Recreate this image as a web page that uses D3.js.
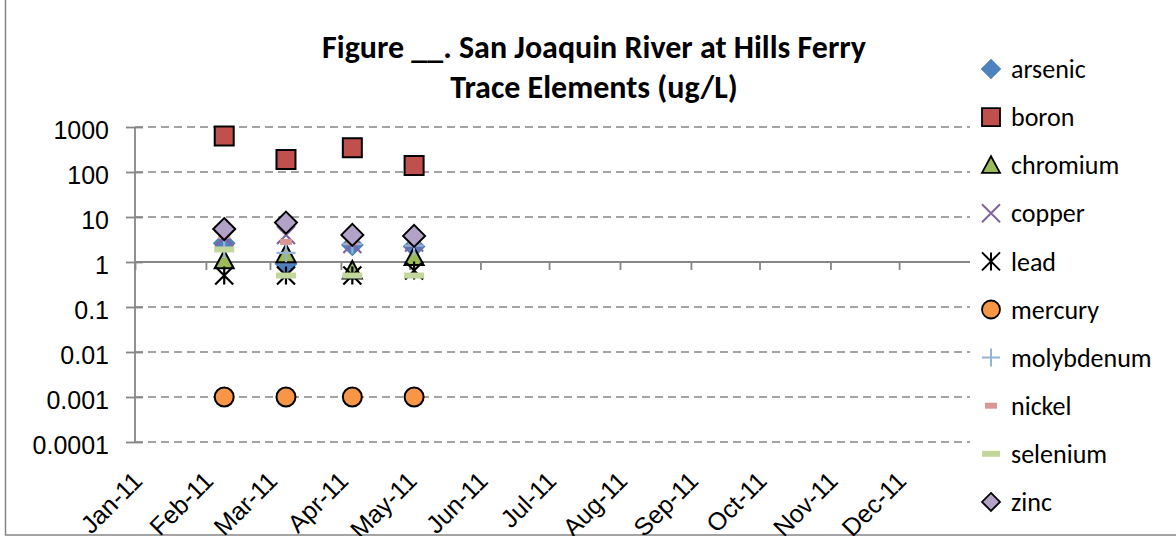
<!DOCTYPE html>
<html lang="en">
  <head>
    <meta charset="UTF-8">
    <title>San Joaquin River at Hills Ferry</title>
    <script src="https://cdn.jsdelivr.net/npm/d3@7"></script>
    <style>
      html, body {
        margin: 0;
        padding: 0;
        background: #fff;
      }
      svg {
        display: block;
        font-family: Carlito, Calibri, Lato, sans-serif;
      }
    </style>
  </head>
  <body>
    <script>
      // values
      const monthLabels = ["Jan-11", "Feb-11", "Mar-11", "Apr-11", "May-11", "Jun-11",
        "Jul-11", "Aug-11", "Sep-11", "Oct-11", "Nov-11", "Dec-11"];
      const sampleDates = ["2011-02-09", "2011-03-08", "2011-04-06", "2011-05-03"];
      const yTickValues = [0.0001, 0.001, 0.01, 0.1, 1, 10, 100, 1000];
      const yTickLabels = ["0.0001", "0.001", "0.01", "0.1", "1", "10", "100", "1000"];

      const elementNames = ["arsenic", "boron", "chromium", "copper", "lead", "mercury",
        "molybdenum", "nickel", "selenium", "zinc"];
      const arsenic = [2.6, 0.9, 2.4, 2.2];
      const boron = [630, 190, 345, 140];
      const chromium = [1.1, 1.5, 0.65, 1.3];
      const copper = [3.5, 4.0, 2.5, 2.7];
      const lead = [0.5, 0.5, 0.5, 0.65];
      const mercury = [0.001, 0.001, 0.001, 0.001];
      const molybdenum = [2.0, 1.6, 2.5, 2.3];
      const nickel = [3.8, 2.8, 2.8, 2.9];
      const selenium = [1.9, 0.5, 0.5, 0.5];
      const zinc = [5.4, 7.5, 4.0, 3.8];

      const seriesValues = [arsenic, boron, chromium, copper, lead, mercury,
        molybdenum, nickel, selenium, zinc];

      const parseDay = d3.timeParse("%Y-%m-%d");
      const series = elementNames.map((name, i) => ({
        name: name,
        points: sampleDates.map((d, j) => ({ date: parseDay(d), value: seriesValues[i][j] }))
      }));

      // marker look for each series (Excel 2007 default palette)
      const markers = {
        arsenic:    { shape: "diamond",  fill: "#4F81BD", stroke: "#4F81BD", size: 20 },
        boron:      { shape: "square",   fill: "#C0504D", stroke: "#000",    size: 19 },
        chromium:   { shape: "triangle", fill: "#9BBB59", stroke: "#000",    size: 19 },
        copper:     { shape: "x",        fill: "none",    stroke: "#8064A2", size: 18 },
        lead:       { shape: "star",     fill: "none",    stroke: "#000",    size: 18 },
        mercury:    { shape: "circle",   fill: "#F79646", stroke: "#000",    size: 19 },
        molybdenum: { shape: "plus",     fill: "none",    stroke: "#95B3D7", size: 19 },
        nickel:     { shape: "dash",     fill: "#D99694", stroke: "none",    size: 12 },
        selenium:   { shape: "bar",      fill: "#C3D69B", stroke: "none",    size: 20 },
        zinc:       { shape: "diamond",  fill: "#B3A2C7", stroke: "#000",    size: 22 }
      };

      function markerPath(shape, s) {
        const h = s / 2;
        switch (shape) {
          case "diamond": return `M0,${-h}L${h},0L0,${h}L${-h},0Z`;
          case "square": return `M${-h},${-h}H${h}V${h}H${-h}Z`;
          case "triangle": return `M0,${-h}L${h},${h * 0.85}H${-h}Z`;
          case "circle": return `M${h},0A${h},${h} 0 1,1 ${-h},0A${h},${h} 0 1,1 ${h},0Z`;
          case "x": return `M${-h},${-h}L${h},${h}M${h},${-h}L${-h},${h}`;
          case "star": return `M${-h},${-h}L${h},${h}M${h},${-h}L${-h},${h}M0,${-h}V${h}`;
          case "plus": return `M${-h},0H${h}M0,${-h}V${h}`;
          case "dash": return `M${-h},-3H${h}V3H${-h}Z`;
          case "bar": return `M${-h},-3H${h}V3H${-h}Z`;
        }
      }

      const width = 1176;
      const height = 536;
      const plot = { left: 135, right: 970, top: 127, bottom: 442 };

      const svg = d3.select("body")
        .append("svg")
        .attr("width", width)
        .attr("height", height);

      // chart frame
      svg.append("rect")
        .attr("x", 5.5)
        .attr("y", -2)
        .attr("width", 1175)
        .attr("height", 537)
        .attr("fill", "#fff")
        .attr("stroke", "#868686")
        .attr("stroke-width", 1.5);

      const x = d3.scaleTime()
        .domain([new Date(2011, 0, 1), new Date(2012, 0, 1)])
        .range([plot.left, plot.right]);

      const y = d3.scaleLog()
        .domain([0.0001, 1000])
        .range([plot.bottom, plot.top]);

      // horizontal gridlines
      svg.append("g")
        .selectAll("line")
        .data(yTickValues.filter(v => v !== 1))
        .join("line")
        .attr("x1", plot.left)
        .attr("x2", plot.right)
        .attr("y1", d => y(d))
        .attr("y2", d => y(d))
        .attr("stroke", "#868686")
        .attr("stroke-width", 1.6)
        .attr("stroke-dasharray", "8,5");

      // y axis
      const yAxis = d3.axisLeft(y)
        .tickValues(yTickValues)
        .tickFormat((d, i) => yTickLabels[i])
        .tickSize(9)
        .tickPadding(17);

      const gy = svg.append("g")
        .attr("transform", `translate(${plot.left},0)`)
        .call(yAxis);
      gy.select(".domain")
        .attr("d", `M0,${plot.top}V${plot.bottom}`)
        .attr("stroke", "#868686")
        .attr("stroke-width", 1.8);
      gy.selectAll(".tick line")
        .attr("x1", 8)
        .attr("stroke", "#868686")
        .attr("stroke-width", 1.8);
      gy.selectAll(".tick text")
        .attr("font-family", null)
        .attr("font-size", 25)
        .attr("fill", "#000")
        .attr("dy", "0.45em");

      // x axis crossing at 1
      const monthDates = d3.timeMonth.range(new Date(2011, 0, 1), new Date(2012, 0, 1));
      const xAxis = d3.axisBottom(x)
        .tickValues(monthDates)
        .tickFormat("")
        .tickSize(8);

      const gx = svg.append("g")
        .attr("transform", `translate(0,${y(1)})`)
        .call(xAxis);
      gx.select(".domain")
        .attr("d", `M${plot.left},0H${plot.right}`)
        .attr("stroke", "#868686")
        .attr("stroke-width", 1.8);
      gx.selectAll(".tick line")
        .attr("stroke", "#868686")
        .attr("stroke-width", 1.8);

      // month labels sit low, under the plot
      const labelAxis = d3.axisBottom(x)
        .tickValues(monthDates)
        .tickFormat((d, i) => monthLabels[i])
        .tickSize(0);

      const gl = svg.append("g")
        .attr("transform", "translate(0,470)")
        .call(labelAxis);
      gl.select(".domain").remove();
      gl.selectAll(".tick text")
        .attr("font-family", null)
        .attr("font-size", 25)
        .attr("fill", "#000")
        .attr("text-anchor", "end")
        .attr("x", 0)
        .attr("y", 0)
        .attr("dy", "0.7em")
        .attr("transform", "translate(-4,0) rotate(-45)");

      // points, series drawn in order so zinc lands on top
      const gSeries = svg.append("g")
        .selectAll("g")
        .data(series)
        .join("g");

      gSeries.selectAll("path")
        .data(d => d.points.map(p => ({ ...p, name: d.name })))
        .join("path")
        .attr("transform", d => `translate(${x(d.date)},${y(d.value)})`)
        .attr("d", d => markerPath(markers[d.name].shape, markers[d.name].size))
        .attr("fill", d => markers[d.name].fill)
        .attr("stroke", d => markers[d.name].stroke)
        .attr("stroke-width", d => ["x", "star", "plus"].includes(markers[d.name].shape) ? 2.2 : 2);

      // title
      const title = svg.append("text")
        .attr("x", 594)
        .attr("text-anchor", "middle")
        .attr("font-weight", "bold")
        .attr("font-size", 32);
      title.append("tspan").attr("x", 594).attr("y", 58).text("Figure __. San Joaquin River at Hills Ferry");
      title.append("tspan").attr("x", 594).attr("y", 98).text("Trace Elements (ug/L)");

      // legend
      const legend = svg.append("g")
        .selectAll("g")
        .data(elementNames)
        .join("g")
        .attr("transform", (d, i) => `translate(991,${69 + i * 48.1})`);

      legend.append("path")
        .attr("d", d => markerPath(markers[d].shape, Math.min(markers[d].size, 18)))
        .attr("fill", d => markers[d].fill)
        .attr("stroke", d => markers[d].stroke)
        .attr("stroke-width", d => ["x", "star", "plus"].includes(markers[d].shape) ? 2 : 1.8);

      legend.append("text")
        .attr("x", 20)
        .attr("dy", "0.35em")
        .attr("font-size", 26)
        .text(d => d);
    </script>
  </body>
</html>
